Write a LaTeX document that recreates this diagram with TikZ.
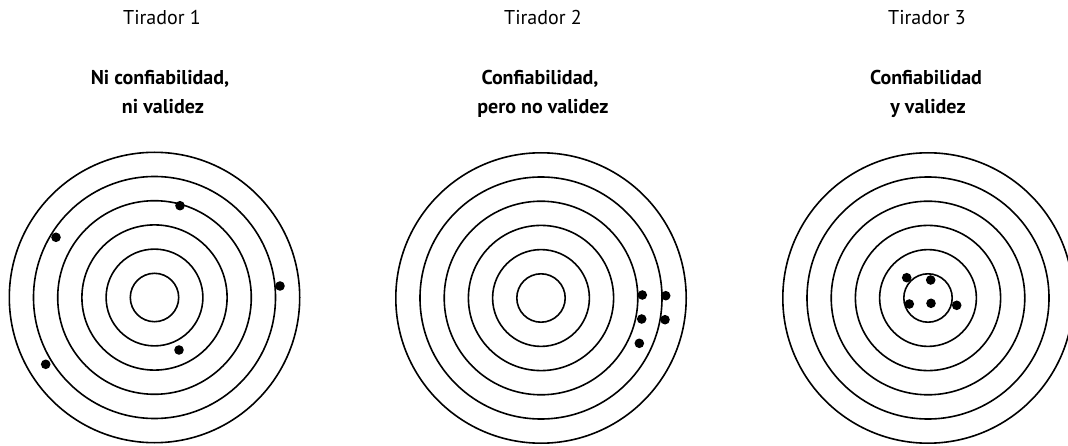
\documentclass[tikz,border=0pt]{standalone}
\usepackage{fontspec}
\setmainfont{PT Sans}
\begin{document}
\begin{tikzpicture}[x=1pt,y=-1pt,
  ring/.style={line width=1.6pt,black},
  shot/.style={fill=black},
  title/.style={font=\fontsize{20}{24}\selectfont,anchor=base},
  verdict/.style={font=\fontsize{20}{29}\selectfont\bfseries,anchor=base,align=center}]
\useasboundingbox (0,0) rectangle (1068,446);
\clip (0,0) rectangle (1068,446);
% centres
\coordinate (c1) at (154.5,297.5);
\coordinate (c2) at (541,298);
\coordinate (c3) at (928,298);
% rings
\foreach \c in {c1,c2,c3}{
  \foreach \k in {1,...,6}{
    \draw[ring] (\c) circle ({24.2*\k});
  }
}
% titles
\node[title] (t1) at (162,25) {Tirador 1};
\node[title] (t2) at (543,25) {Tirador 2};
\node[title] (t3) at (927,25) {Tirador 3};
\node[verdict] (v1a) at (160,85) {Ni confiabilidad,};
\node[verdict] (v1b) at (163,114) {ni validez};
\node[verdict] (v2a) at (540,85) {Confiabilidad,};
\node[verdict] (v2b) at (543,114) {pero no validez};
\node[verdict] (v3a) at (926,85) {Confiabilidad};
\node[verdict] (v3b) at (928,114) {y validez};
% shots, target 1
\foreach \p in {(180,205.7),(56,237.3),(280,286),(179,350),(45.7,364.3)}
  \fill[shot] \p circle (4.8);
% shots, target 2
\foreach \p in {(642.3,295),(665.7,295.7),(641.7,319),(665,319.7),(639.3,343.3)}
  \fill[shot] \p circle (4.8);
% shots, target 3
\foreach \p in {(906.7,277.7),(930.7,280),(909.3,304),(931,303.3),(956.7,305.3)}
  \fill[shot] \p circle (4.8);
\end{tikzpicture}
\end{document}
